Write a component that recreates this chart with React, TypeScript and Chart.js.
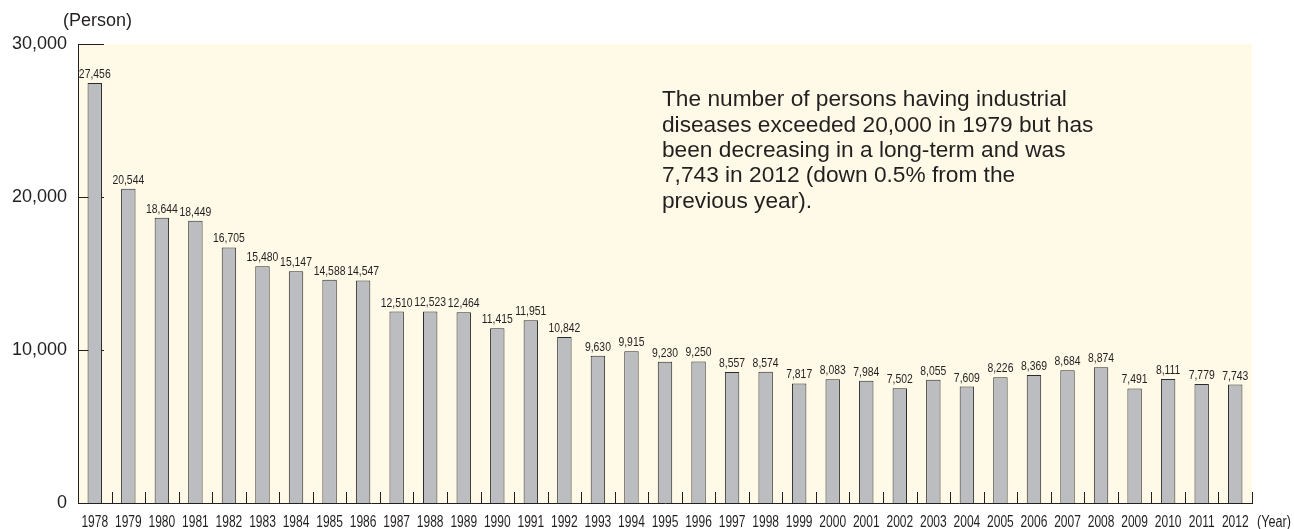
import React, { useEffect, useRef } from "react";
import { Chart, registerables } from "chart.js";

Chart.register(...registerables);

const years: string[] = [
  "1978", "1979", "1980", "1981", "1982", "1983", "1984", "1985", "1986", "1987",
  "1988", "1989", "1990", "1991", "1992", "1993", "1994", "1995", "1996", "1997",
  "1998", "1999", "2000", "2001", "2002", "2003", "2004", "2005", "2006", "2007",
  "2008", "2009", "2010", "2011", "2012",
];

const persons: number[] = [
  27456, 20544, 18644, 18449, 16705, 15480, 15147, 14588, 14547, 12510,
  12523, 12464, 11415, 11951, 10842, 9630, 9915, 9230, 9250, 8557,
  8574, 7817, 8083, 7984, 7502, 8055, 7609, 8226, 8369, 8684,
  8874, 7491, 8111, 7779, 7743,
];

const yTicks: number[] = [0, 10000, 20000, 30000];

const noteLines: string[] = [
  "The number of persons having industrial",
  "diseases exceeded 20,000 in 1979 but has",
  "been decreasing in a long-term and was",
  "7,743 in 2012 (down 0.5% from the",
  "previous year).",
];

const fmt = (v: number) => v.toLocaleString("en-US");
const SANS = '"Liberation Sans", Arial, sans-serif';
const INK = "#231f20";

// draw horizontally condensed text
function narrowText(ctx: any, text: string, x: number, y: number, sx: number) {
  ctx.save();
  ctx.translate(x, y);
  ctx.scale(sx, 1);
  ctx.fillText(text, 0, 0);
  ctx.restore();
}

const decorPlugin = {
  id: "decor",
  beforeDraw(chart: any) {
    const { ctx, chartArea } = chart;
    ctx.save();
    ctx.fillStyle = "#fffae7";
    ctx.fillRect(chartArea.left, chartArea.top, chartArea.right - chartArea.left, chartArea.bottom - chartArea.top);
    ctx.restore();
  },
  beforeDatasetsDraw(chart: any) {
    const { ctx, chartArea, scales } = chart;
    const x = scales.x;
    const y = scales.y;
    ctx.save();
    ctx.strokeStyle = INK;
    ctx.lineWidth = 1;
    yTicks.forEach((t) => {
      if (t === 0) return;
      const py = Math.round(y.getPixelForValue(t)) + 0.5;
      ctx.beginPath();
      ctx.moveTo(chartArea.left, py);
      ctx.lineTo(chartArea.left + 26, py);
      ctx.stroke();
    });
    const n = years.length;
    for (let i = 1; i <= n; i++) {
      let px: number;
      if (i < n) px = (x.getPixelForValue(i - 1) + x.getPixelForValue(i)) / 2;
      else px = chartArea.right;
      px = Math.round(px) + 0.5;
      ctx.beginPath();
      ctx.moveTo(px, chartArea.bottom);
      ctx.lineTo(px, chartArea.bottom - 11);
      ctx.stroke();
    }
    ctx.restore();
  },
  afterDatasetsDraw(chart: any) {
    const { ctx, chartArea, scales } = chart;
    const meta = chart.getDatasetMeta(0);
    ctx.save();
    ctx.fillStyle = INK;
    ctx.textAlign = "center";
    ctx.textBaseline = "alphabetic";
    // value labels
    ctx.font = `13px ${SANS}`;
    meta.data.forEach((bar: any, i: number) => {
      narrowText(ctx, fmt(persons[i]), bar.x, bar.y - 5, 0.8);
    });
    // category labels
    ctx.font = `16px ${SANS}`;
    years.forEach((yr, i) => {
      narrowText(ctx, yr, scales.x.getPixelForValue(i), 526.5, 0.75);
    });
    // unit labels
    ctx.textAlign = "left";
    narrowText(ctx, "(Year)", chartArea.right + 5, 526.5, 0.79);
    ctx.font = `18px ${SANS}`;
    ctx.textBaseline = "middle";
    ctx.fillText("(Person)", 63, 21);
    // annotation
    ctx.font = `22.7px ${SANS}`;
    noteLines.forEach((line, i) => {
      ctx.fillText(line, 662, 100 + i * 25.4);
    });
    ctx.restore();
  },
};

export default function App() {
  const canvasRef = useRef<HTMLCanvasElement | null>(null);

  useEffect(() => {
    if (!canvasRef.current) return;
    const chart = new Chart(canvasRef.current, {
      type: "bar",
      data: {
        labels: years,
        datasets: [
          {
            data: persons,
            backgroundColor: "#bcbdc1",
            borderColor: "#2b2b2b",
            borderWidth: 1,
            borderSkipped: "bottom",
            barPercentage: 0.43,
            categoryPercentage: 1,
          },
        ],
      },
      options: {
        animation: false,
        responsive: false,
        maintainAspectRatio: false,
        layout: { padding: { top: 44, right: 42, left: 0, bottom: 0 } },
        plugins: {
          legend: { display: false },
          tooltip: { enabled: false },
          title: { display: false },
        },
        scales: {
          x: {
            grid: { display: false, drawTicks: false },
            border: { display: true, color: INK, width: 1 },
            ticks: { display: false },
            afterFit: (s: any) => {
              s.height = 26;
            },
          },
          y: {
            min: 0,
            max: 30000,
            grid: { display: false, drawTicks: false },
            border: { display: true, color: INK, width: 1 },
            afterBuildTicks: (s: any) => {
              s.ticks = yTicks.map((v) => ({ value: v }));
            },
            ticks: {
              padding: 11,
              color: INK,
              font: { family: SANS, size: 18 },
              callback: (v: any) => fmt(Number(v)),
            },
            afterFit: (s: any) => {
              s.width = 78;
            },
          },
        },
      },
      plugins: [decorPlugin],
    });
    return () => chart.destroy();
  }, []);

  return (
    <div style={{ position: "fixed", left: 0, top: 0, width: 1294, height: 529, background: "#fff" }}>
      <canvas ref={canvasRef} width={1294} height={529} style={{ width: 1294, height: 529, display: "block" }} />
    </div>
  );
}
